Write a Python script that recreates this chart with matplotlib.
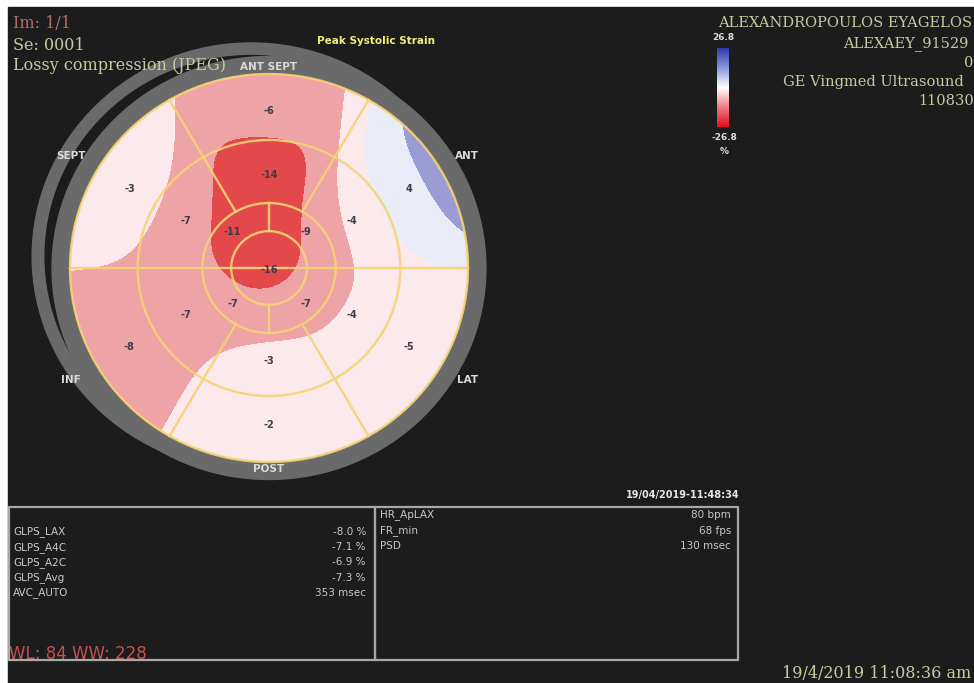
import numpy as np
import matplotlib
matplotlib.use('Agg')
import matplotlib.pyplot as plt
from matplotlib.patches import Ellipse, Rectangle
from matplotlib.colors import LinearSegmentedColormap

# peak systolic strain per segment (%)
wall_names = ['ANT_SEPT', 'SEPT', 'INF', 'POST', 'LAT', 'ANT']
basal_strain = [-6, -3, -8, -2, -5, 4]
mid_strain = [-14, -7, -7, -3, -4, -4]
apical_names = ['ANT', 'SEPT', 'INF', 'LAT']
apical_strain = [-9, -11, -7, -7]
apex_strain = -16
strain_limit = 26.8

# contour bands of the map
band_levels = [-40, -13, -9.5, -6, -1.5, 2.6, 40]
band_colors = ['#e12b2e', '#e3494a', '#eea3a7', '#fbe9ec', '#eaedf7', '#9c9cd4']

# global results
glps_labels = ['GLPS_LAX', 'GLPS_A4C', 'GLPS_A2C', 'GLPS_Avg', 'AVC_AUTO']
glps_values = ['-8.0 %', '-7.1 %', '-6.9 %', '-7.3 %', '353 msec']
hr_labels = ['HR_ApLAX', 'FR_min', 'PSD']
hr_values = ['80 bpm', '68 fps', '130 msec']

header_lines = ['ALEXANDROPOULOS EYAGELOS', 'ALEXAEY_91529', '0',
                'GE Vingmed Ultrasound', '110830']

BG = '#1c1c1c'
YEL = '#f5d373'
GREY = '#6a6a6a'
KHAKI = '#c9c9a0'

fig = plt.figure(figsize=(9.74, 6.83), dpi=100, facecolor='white')
ax = fig.add_axes([0, 0, 1, 1])
ax.set_xlim(0, 974)
ax.set_ylim(683, 0)
ax.axis('off')
ax.add_patch(Rectangle((8, 7), 970, 680, color=BG, zorder=0))

# bullseye geometry (screen pixels, slightly squeezed vertically)
cx, cy, rx, ry = 269, 268, 199, 194
ring_r = [0.19, 0.335, 0.66, 1.0]


def to_px(u, v, x0=cx, y0=cy):
    return x0 + rx * np.asarray(u), y0 - ry * np.asarray(v)


def polar(r, deg):
    a = np.deg2rad(deg)
    return r * np.cos(a), r * np.sin(a)


# grey frame rings
bx, by = to_px(-0.09, 0.06)
ax.add_patch(Ellipse((bx, by), 2 * rx * 1.10, 2 * ry * 1.10, color=GREY, zorder=1))
ax.add_patch(Ellipse((bx, by), 2 * rx * 1.035, 2 * ry * 1.035, color=BG, zorder=1.1))
ax.add_patch(Ellipse((cx, cy), 2 * rx * 1.09, 2 * ry * 1.09, color=GREY, zorder=1.2))

# segment centres and values
pu, pv, vals = [], [], []
for i, v in enumerate(basal_strain):
    u, w = polar(0.81, 90 + 60 * i)
    pu.append(u); pv.append(w); vals.append(v)
for i, v in enumerate(mid_strain):
    u, w = polar(0.48, 90 + 60 * i)
    pu.append(u); pv.append(w); vals.append(v)
for i, v in enumerate(apical_strain):
    u, w = polar(0.26, 45 + 90 * i)
    pu.append(u); pv.append(w); vals.append(v)
pu.append(0.0); pv.append(-0.01); vals.append(apex_strain)
pu, pv, vals = np.array(pu), np.array(pv), np.array(vals, dtype=float)

# smooth map from segment values (gaussian kernel weighting)
g = np.linspace(-1.02, 1.02, 420)
uu, vv = np.meshgrid(g, g)
d2 = (uu[..., None] - pu) ** 2 + (vv[..., None] - pv) ** 2
wts = np.exp(-d2 / (2 * 0.22 ** 2)) + 1e-12
field = (wts * vals).sum(-1) / wts.sum(-1)
X, Y = to_px(uu, vv)

disk = Ellipse((cx, cy), 2 * rx, 2 * ry, facecolor='#fbe9ec', edgecolor='none', zorder=2)
ax.add_patch(disk)
cs = ax.contourf(X, Y, field, levels=band_levels, colors=band_colors, zorder=3)
cs.set_clip_path(disk)

# segment grid
for r in ring_r:
    ax.add_patch(Ellipse((cx, cy), 2 * rx * r, 2 * ry * r, fill=False,
                         ec=YEL, lw=1.7, alpha=0.9, zorder=4))
for deg in [0, 60, 120, 180, 240, 300]:
    u, w = polar(np.array([ring_r[1], 1.0]), deg)
    ax.plot(*to_px(u, w), color=YEL, lw=1.7, alpha=0.9, zorder=4)
for deg in [0, 90, 180, 270]:
    u, w = polar(np.array([ring_r[0], ring_r[1]]), deg)
    ax.plot(*to_px(u, w), color=YEL, lw=1.7, alpha=0.9, zorder=4)
for deg in [0, 180]:
    u, w = polar(np.array([0, ring_r[0]]), deg)
    ax.plot(*to_px(u, w), color=YEL, lw=1.7, alpha=0.9, zorder=4)

for u, w, v in zip(pu, pv, vals):
    x, y = to_px(u, w)
    ax.text(x, y, f'{int(v)}', color='#3c3c4a', fontsize=7, fontweight='bold',
            ha='center', va='center', zorder=6)

# wall names around the plot
for i, name in enumerate(wall_names):
    deg = 90 + 60 * i
    r = 1.035 if i in (0, 3) else 1.15
    u, w = polar(r, deg)
    x, y = to_px(u, w)
    ax.text(x, y, name.replace('_', ' '), color='#dadada', fontsize=7.5,
            fontweight='bold', ha='center', va='center', zorder=7)

# colour bar
strain_cmap = LinearSegmentedColormap.from_list(
    'strain', ['#e0101c', '#f07c86', '#ffffff', '#8a98dc', '#2c3cac'])
grad = np.linspace(strain_limit, -strain_limit, 120)[:, None]
ax.imshow(grad, cmap=strain_cmap, vmin=-strain_limit, vmax=strain_limit,
          extent=(717, 729, 127, 48), aspect='auto', zorder=5)
ax.set_xlim(0, 974)
ax.set_ylim(683, 0)
ax.text(723, 38, f'{strain_limit:.1f}', color='#dddddd', fontsize=6.5,
        fontweight='bold', ha='center', va='center', zorder=7)
ax.text(724, 137, f'{-strain_limit:.1f}', color='#dddddd', fontsize=6.5,
        fontweight='bold', ha='center', va='center', zorder=7)
ax.text(724, 151, '%', color='#dddddd', fontsize=6.5, fontweight='bold',
        ha='center', va='center', zorder=7)

# overlay texts
serif = 'DejaVu Serif'
ax.text(13, 24, 'Im: 1/1', color='#b56a6a', fontsize=11.5, family=serif,
        va='center', zorder=8)
ax.text(13, 45, 'Se: 0001', color=KHAKI, fontsize=11.5, family=serif,
        va='center', zorder=8)
ax.text(13, 66, 'Lossy compression (JPEG)', color=KHAKI, fontsize=11.5,
        family=serif, va='center', zorder=8)
ax.text(376, 41, 'Peak Systolic Strain', color='#f0ee7c', fontsize=7.5,
        fontweight='bold', ha='center', va='center', zorder=8)

header_x = [718, 843, 964, 783, 918]
header_y = [23, 44, 63, 82, 101]
for s, x, y in zip(header_lines, header_x, header_y):
    ax.text(x, y, s, color=KHAKI, fontsize=10.5, family=serif, va='center', zorder=8)

# result boxes
ax.add_patch(Rectangle((9, 507), 366, 153, fill=False, ec='#a8a8a8', lw=1.6, zorder=8))
ax.add_patch(Rectangle((375, 507), 363, 153, fill=False, ec='#a8a8a8', lw=1.6, zorder=8))
ax.text(740, 495, '19/04/2019-11:48:34', color='#e6e6e6', fontsize=7,
        fontweight='bold', ha='right', va='center', zorder=8)

for i, (lab, val) in enumerate(zip(glps_labels, glps_values)):
    y = 532 + 15.2 * i
    ax.text(13, y, lab, color='#c8c8c8', fontsize=7.5, va='center', zorder=8)
    ax.text(366, y, val, color='#c8c8c8', fontsize=7.5, ha='right', va='center', zorder=8)
for i, (lab, val) in enumerate(zip(hr_labels, hr_values)):
    y = 515 + 15.5 * i
    ax.text(380, y, lab, color='#c8c8c8', fontsize=7.5, va='center', zorder=8)
    ax.text(731, y, val, color='#c8c8c8', fontsize=7.5, ha='right', va='center', zorder=8)

ax.text(9, 654, 'WL: 84 WW: 228', color='#c25252', fontsize=12, va='center', zorder=7)
ax.text(782, 673, '19/4/2019 11:08:36 am', color=KHAKI, fontsize=11.5,
        family=serif, va='center', zorder=8)

fig.savefig('out.png', dpi=100, facecolor=fig.get_facecolor())
